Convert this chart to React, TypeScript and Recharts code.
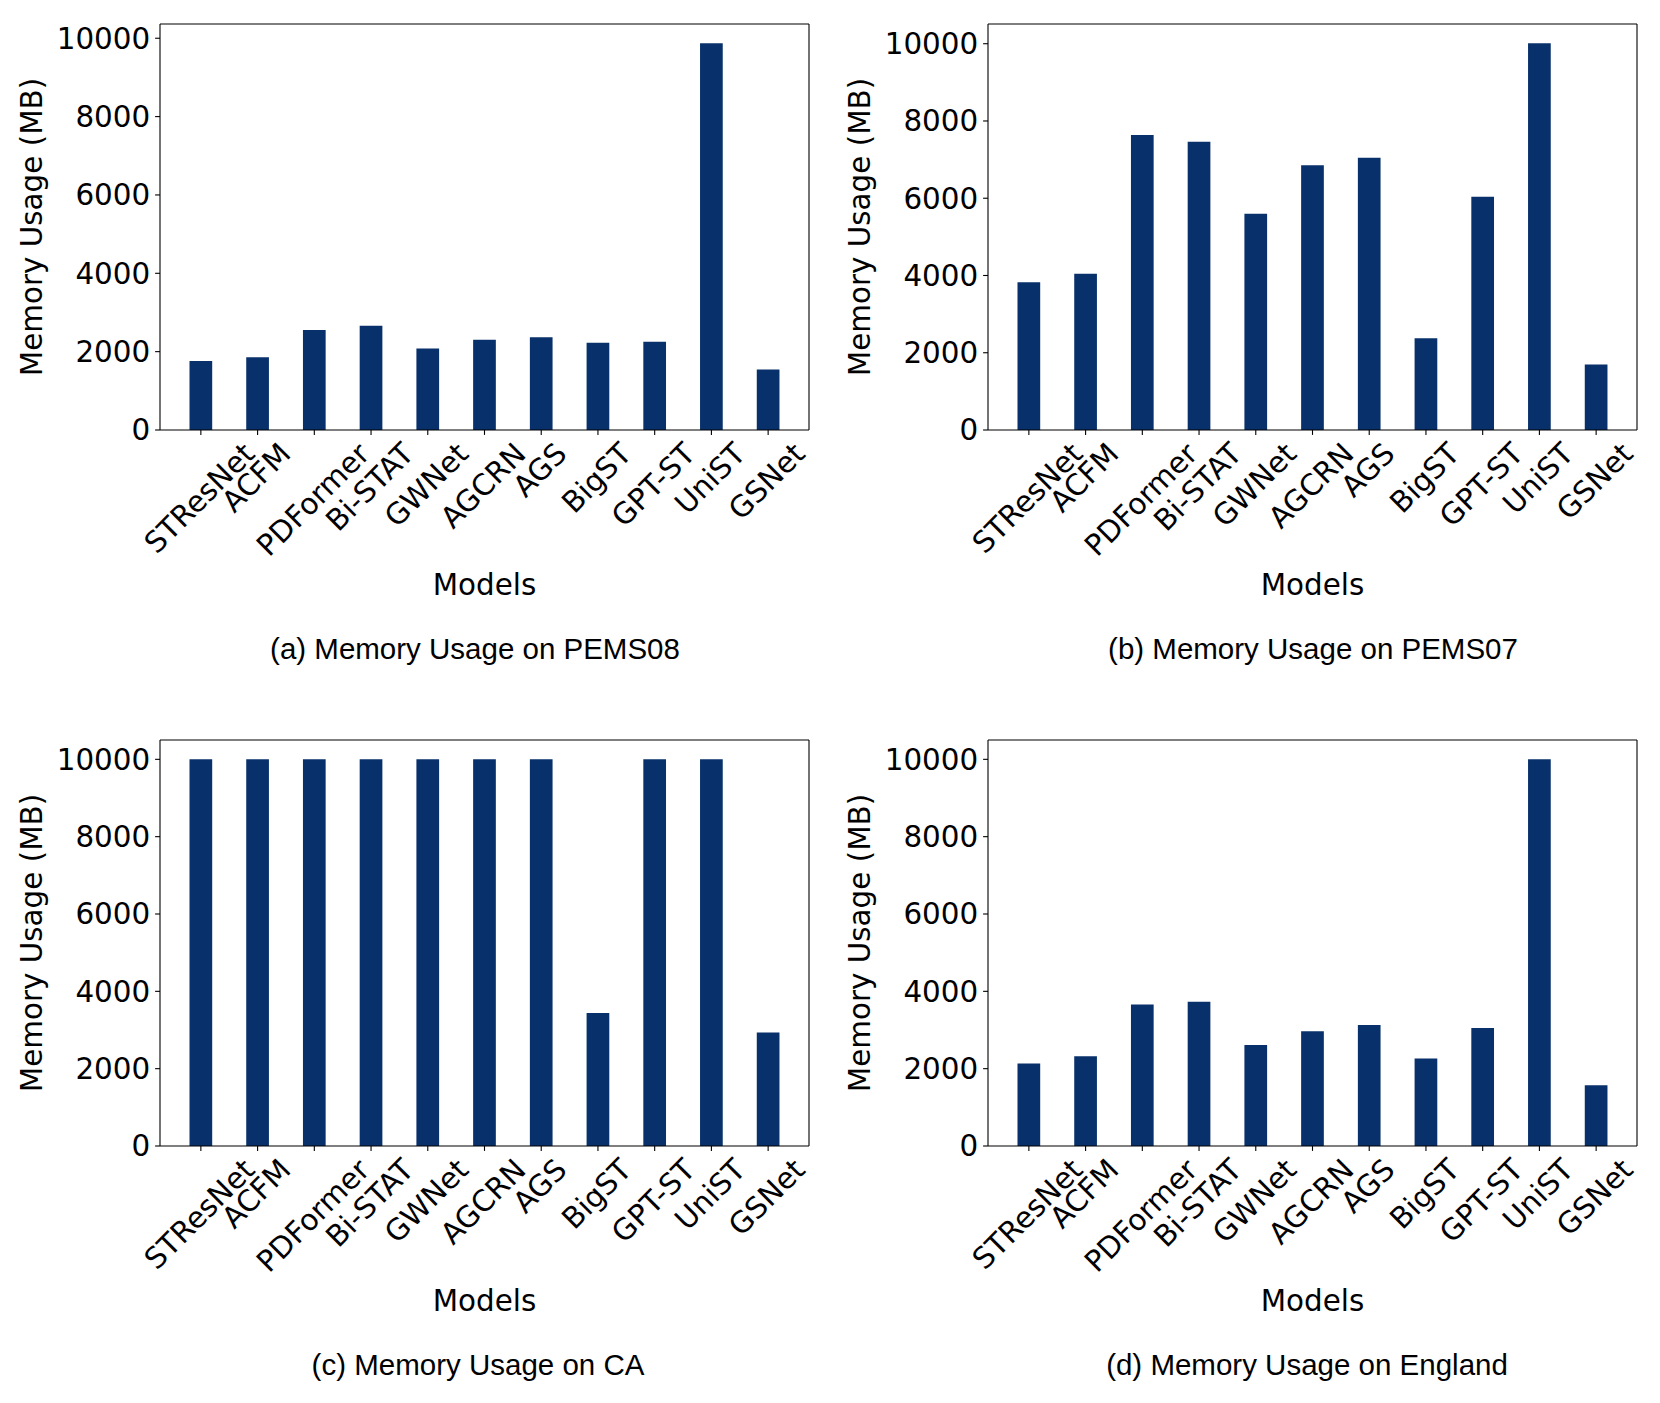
import React from 'react';
import { BarChart, Bar, XAxis, YAxis } from 'recharts';

const models = ['STResNet', 'ACFM', 'PDFormer', 'Bi-STAT', 'GWNet', 'AGCRN', 'AGS', 'BigST', 'GPT-ST', 'UniST', 'GSNet'];
const pems08 = [1760, 1860, 2555, 2660, 2080, 2305, 2365, 2225, 2250, 9870, 1545];
const pems07 = [3825, 4045, 7640, 7465, 5600, 6855, 7050, 2375, 6040, 10010, 1695];
const caData = [10000, 10000, 10000, 10000, 10000, 10000, 10000, 3440, 10000, 10000, 2935];
const england = [2135, 2320, 3660, 3730, 2610, 2970, 3130, 2265, 3050, 10000, 1570];
const yTicks = [0, 2000, 4000, 6000, 8000, 10000];

const BAR_COLOR = '#08306b';
const FS = 29.4;
const FONT = 'DejaVu Sans';
const CAP_FONT = 'Liberation Sans';

// plot area geometry (matplotlib axes box)
const PLOT_W = 649;
const PLOT_H = 406;
const Y_AXIS_W = 160;
const MARGIN_TOP = 24;
const CHART_W = 830;
const CHART_H = 600;

const panels = [
  { values: pems08, left: 160, top: 24, caption: '(a) Memory Usage on PEMS08', capX: 475 },
  { values: pems07, left: 988, top: 24, caption: '(b) Memory Usage on PEMS07', capX: 1313 },
  { values: caData, left: 160, top: 740, caption: '(c) Memory Usage on CA', capX: 478 },
  { values: england, left: 988, top: 740, caption: '(d) Memory Usage on England', capX: 1307 },
];

let measureCtx: CanvasRenderingContext2D | null = null;
const textWidth = (s: string) => {
  if (!measureCtx) {
    measureCtx = document.createElement('canvas').getContext('2d');
  }
  if (!measureCtx) return s.length * FS * 0.6;
  measureCtx.font = `${FS}px "${FONT}"`;
  return measureCtx.measureText(s).width;
};

const RotTick = (props: any) => {
  const { x, y, payload } = props;
  const label = String(payload.value);
  const side = (textWidth(label) + 0.97 * FS) * Math.SQRT1_2;
  const cy = y + side / 2;
  return (
    <g transform={`translate(${x},${cy}) rotate(-45)`}>
      <text x={0} y={0.276 * FS} textAnchor="middle" fontFamily={FONT} fontSize={FS} fill="#000">
        {label}
      </text>
    </g>
  );
};

const Panel = ({ values, left, top }: { values: number[]; left: number; top: number }) => {
  const data = models.map((m, i) => ({ model: m, value: values[i] }));
  const yMax = Math.max(...values) * 1.05;
  return (
    <div style={{ position: 'absolute', left: left - Y_AXIS_W, top: top - MARGIN_TOP }}>
      <BarChart
        width={CHART_W}
        height={CHART_H}
        data={data}
        margin={{ top: MARGIN_TOP, right: CHART_W - Y_AXIS_W - PLOT_W, left: 0, bottom: 0 }}
      >
        <XAxis
          dataKey="model"
          interval={0}
          height={CHART_H - MARGIN_TOP - PLOT_H}
          padding={{ left: 12.5, right: 12.5 }}
          tickSize={4.9}
          tickMargin={4.9}
          tickLine={{ stroke: '#000', strokeWidth: 1.1 }}
          axisLine={{ stroke: '#000', strokeWidth: 1.1 }}
          tick={<RotTick />}
        />
        <YAxis
          width={Y_AXIS_W}
          type="number"
          domain={[0, yMax]}
          ticks={yTicks}
          interval={0}
          allowDataOverflow
          tickSize={4.9}
          tickMargin={4.9}
          tickLine={{ stroke: '#000', strokeWidth: 1.1 }}
          axisLine={{ stroke: '#000', strokeWidth: 1.1 }}
          tick={{ fontSize: FS, fontFamily: FONT, fill: '#000' }}
        />
        <Bar dataKey="value" fill={BAR_COLOR} barSize={22.7} isAnimationActive={false} />
      </BarChart>
    </div>
  );
};

export default function App() {
  return (
    <div style={{ position: 'absolute', left: 0, top: 0, width: 1660, height: 1403, background: '#fff', overflow: 'hidden' }}>
      {panels.map((p, i) => (
        <Panel key={i} values={p.values} left={p.left} top={p.top} />
      ))}
      <svg width={1660} height={1403} style={{ position: 'absolute', left: 0, top: 0, pointerEvents: 'none' }}>
        {panels.map((p, i) => {
          const cx = p.left + PLOT_W / 2;
          const bottom = p.top + PLOT_H;
          return (
            <g key={i}>
              <line x1={p.left} y1={p.top} x2={p.left + PLOT_W} y2={p.top} stroke="#000" strokeWidth={1.1} />
              <line x1={p.left + PLOT_W} y1={p.top} x2={p.left + PLOT_W} y2={bottom} stroke="#000" strokeWidth={1.1} />
              <text
                transform={`translate(${p.left - 118},${p.top + PLOT_H / 2}) rotate(-90)`}
                textAnchor="middle"
                fontFamily={FONT}
                fontSize={FS}
                fill="#000"
              >
                Memory Usage (MB)
              </text>
              <text x={cx} y={bottom + 165} textAnchor="middle" fontFamily={FONT} fontSize={FS} fill="#000">
                Models
              </text>
              <text x={p.capX} y={p.top + 635} textAnchor="middle" fontFamily={CAP_FONT} fontSize={29.5} fill="#000">
                {p.caption}
              </text>
            </g>
          );
        })}
      </svg>
    </div>
  );
}
